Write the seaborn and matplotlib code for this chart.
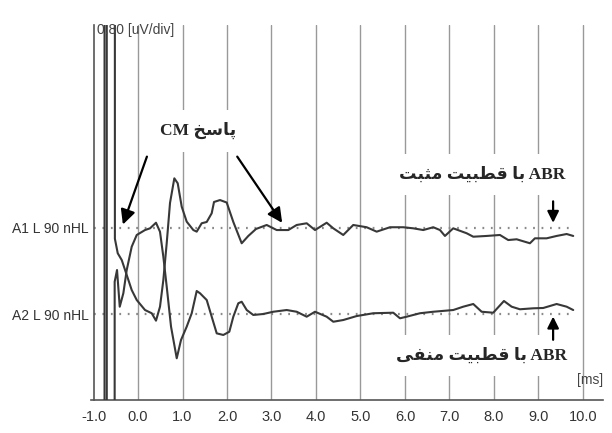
import matplotlib
matplotlib.use("Agg")
import numpy as np
import pandas as pd
import seaborn as sns
import matplotlib.pyplot as plt

# ---- data (ms, uV relative to each channel baseline) ----
# big +/-30 uV values are the stimulus artifact (off scale)
a1_ms = [-0.755, -0.75, -0.525, -0.52, -0.456, -0.366, -0.254, -0.142, -0.029, 0.157,
         0.308, 0.404, 0.494, 0.569, 0.645, 0.719, 0.816, 0.892, 0.982, 1.094,
         1.243, 1.319, 1.431, 1.544, 1.656, 1.708, 1.843, 1.993, 2.142, 2.330,
         2.479, 2.652, 2.892, 3.117, 3.378, 3.566, 3.791, 3.978, 4.240, 4.389,
         4.613, 4.838, 5.139, 5.364, 5.663, 5.962, 6.187, 6.411, 6.636, 6.787,
         6.899, 7.085, 7.387, 7.535, 7.836, 8.135, 8.321, 8.510, 8.809, 8.921,
         9.184, 9.409, 9.634, 9.782]
a1_uv = [-30, 30, 30, -0.10, -0.235, -0.298, -0.437, -0.577, -0.670, -0.763,
         -0.793, -0.862, -0.732, -0.484, -0.140, 0.233, 0.462, 0.416, 0.198, 0.059,
         -0.019, -0.034, 0.044, 0.056, 0.137, 0.242, 0.260, 0.237, 0.056, -0.142,
         -0.074, -0.009, 0.028, -0.019, -0.019, 0.028, 0.044, -0.019, 0.049, -0.003,
         -0.065, 0.028, 0.007, -0.034, 0.007, 0.007, -0.003, -0.019, 0.007, -0.019,
         -0.074, -0.003, -0.049, -0.081, -0.074, -0.065, -0.112, -0.105, -0.142, -0.096,
         -0.096, -0.074, -0.056, -0.074]

a2_ms = [-0.705, -0.70, -0.53, -0.525, -0.472, -0.411, -0.330, -0.254, -0.142, -0.029,
         0.157, 0.270, 0.404, 0.494, 0.569, 0.645, 0.742, 0.870, 0.966, 1.094,
         1.207, 1.319, 1.393, 1.544, 1.656, 1.769, 1.917, 2.052, 2.142, 2.254,
         2.330, 2.443, 2.591, 2.816, 3.040, 3.342, 3.566, 3.791, 3.978, 4.240,
         4.389, 4.613, 4.915, 5.288, 5.737, 5.888, 6.038, 6.337, 6.636, 7.085,
         7.310, 7.535, 7.724, 7.984, 8.225, 8.398, 8.584, 8.883, 9.108, 9.409,
         9.634, 9.782]
a2_uv = [30, -30, -30, 0.30, 0.409, 0.068, 0.193, 0.409, 0.626, 0.735,
         0.781, 0.797, 0.849, 0.765, 0.533, 0.254, -0.118, -0.412, -0.242, -0.118,
         0.007, 0.214, 0.193, 0.130, -0.025, -0.180, -0.195, -0.165, -0.025, 0.100,
         0.114, 0.037, -0.009, 0.000, 0.021, 0.037, 0.021, -0.025, 0.021, -0.025,
         -0.072, -0.056, -0.019, 0.007, 0.012, -0.040, -0.025, 0.007, 0.021, 0.037,
         0.068, 0.093, 0.021, 0.012, 0.121, 0.068, 0.044, 0.053, 0.056, 0.093,
         0.068, 0.037]

channels = ["A1", "A2"]
channel_labels = ["A1 L 90 nHL", "A2 L 90 nHL"]
channel_base = [2, 1]          # in divisions above the time axis
uv_per_div = 0.80
x_ticks = [-1.0, 0.0, 1.0, 2.0, 3.0, 4.0, 5.0, 6.0, 7.0, 8.0, 9.0, 10.0]

cm_text = "پاسخ CM"
abr_pos_text = "ABR با قطبیت مثبت"
abr_neg_text = "ABR با قطبیت منفی"

# ---- tiny Persian shaping (matplotlib has no bidi / joining) ----
FORMS = {  # isolated, final, initial, medial
    "ا": ("\uFE8D", "\uFE8E", None, None),
    "ب": ("\uFE8F", "\uFE90", "\uFE91", "\uFE92"),
    "پ": ("\uFB56", "\uFB57", "\uFB58", "\uFB59"),
    "ت": ("\uFE95", "\uFE96", "\uFE97", "\uFE98"),
    "ث": ("\uFE99", "\uFE9A", "\uFE9B", "\uFE9C"),
    "خ": ("\uFEA5", "\uFEA6", "\uFEA7", "\uFEA8"),
    "س": ("\uFEB1", "\uFEB2", "\uFEB3", "\uFEB4"),
    "ط": ("\uFEC1", "\uFEC2", "\uFEC3", "\uFEC4"),
    "ف": ("\uFED1", "\uFED2", "\uFED3", "\uFED4"),
    "ق": ("\uFED5", "\uFED6", "\uFED7", "\uFED8"),
    "م": ("\uFEE1", "\uFEE2", "\uFEE3", "\uFEE4"),
    "ن": ("\uFEE5", "\uFEE6", "\uFEE7", "\uFEE8"),
    "ی": ("\uFBFC", "\uFBFD", "\uFBFE", "\uFBFF"),
}


def shape_word(w):
    out = []
    for i, ch in enumerate(w):
        f = FORMS.get(ch)
        if f is None:
            out.append(ch)
            continue
        prev = w[i - 1] if i > 0 else None
        nxt = w[i + 1] if i + 1 < len(w) else None
        jp = prev in FORMS and FORMS[prev][2] is not None
        jn = nxt in FORMS and f[2] is not None
        if jp and jn:
            out.append(f[3])
        elif jp:
            out.append(f[1])
        elif jn:
            out.append(f[2])
        else:
            out.append(f[0])
    return "".join(reversed(out))


def rtl(text):
    words = text.split(" ")
    return " ".join(shape_word(w) if any(c in FORMS for c in w) else w
                    for w in reversed(words))


# ---- build frame ----
frames = []
for ch, base, ms, uv in zip(channels, channel_base, [a1_ms, a2_ms], [a1_uv, a2_uv]):
    d = pd.DataFrame({"ms": ms, "uV": uv})
    d["ch"] = ch
    d["y"] = base + d["uV"] / uv_per_div
    frames.append(d)
df = pd.concat(frames, ignore_index=True)

sns.set_style("white")
plt.rcParams["font.family"] = ["Liberation Sans", "DejaVu Sans"]

fig = plt.figure(figsize=(6.12, 4.33), dpi=100)
ax = fig.add_axes([0.1492, 0.0762, 0.836, 0.866])
ax.set_xlim(-1.05, 10.45)
ax.set_ylim(0, 4.36)

grid_col = "#999999"
for xv in x_ticks[1:]:
    ax.axvline(xv, color=grid_col, lw=1.0, zorder=1)

# dotted baselines
ax.hlines(channel_base, -1.0, 9.8, colors="#8a8a8a", lw=1.6,
          linestyles=(0, (0.8, 3.0)), zorder=1)

sns.lineplot(data=df, x="ms", y="y", units="ch", estimator=None, sort=False,
             color="#383838", lw=1.5, ax=ax, legend=False, zorder=3)

# axes styling
for s in ["top", "right"]:
    ax.spines[s].set_visible(False)
ax.spines["left"].set_position(("data", -1.0))
ax.spines["left"].set_color("#555555")
ax.spines["bottom"].set_color("#555555")
ax.spines["left"].set_linewidth(1.2)
ax.spines["bottom"].set_linewidth(1.2)

ax.set_xticks(x_ticks)
ax.set_xticklabels(["%.1f" % v for v in x_ticks])
ax.set_yticks([1, 2, 3, 4])
ax.set_yticklabels([channel_labels[1], channel_labels[0], "", ""])
ax.tick_params(axis="x", direction="inout", length=8, width=1.0, colors="#555555",
               labelcolor="#333333", labelsize=10.5, pad=3)
ax.tick_params(axis="y", direction="inout", length=7, width=1.0, colors="#555555",
               labelcolor="#333333", labelsize=10, pad=0)
ax.set_xlabel("")
ax.set_ylabel("")

ax.text(-0.93, 4.3, "%.2f [uV/div]" % uv_per_div, fontsize=10, color="#444444",
        ha="left", va="center", zorder=6)
ax.text(10.45, 0.23, "[ms]", fontsize=10, color="#444444", ha="right", va="center",
        zorder=6)

# annotations
font_ann = dict(family=["Liberation Serif", "DejaVu Sans"], weight="bold", size=12.5)
box = dict(boxstyle="square,pad=0.7", fc="white", ec="none")
ax.text(1.35, 3.13, rtl(cm_text), ha="center", va="center", bbox=box, zorder=4, **font_ann)
ax.text(7.73, 2.62, rtl(abr_pos_text), ha="center", va="center", bbox=box, zorder=4, **font_ann)
ax.text(7.73, 0.52, rtl(abr_neg_text), ha="center", va="center", bbox=box, zorder=4, **font_ann)

arr = dict(arrowstyle="-|>", color="black", lw=1.6, mutation_scale=22, shrinkA=0, shrinkB=0)
ax.annotate("", xy=(-0.34, 2.04), xytext=(0.20, 2.83), arrowprops=arr, zorder=5)
ax.annotate("", xy=(3.24, 2.06), xytext=(2.23, 2.83), arrowprops=arr, zorder=5)
arr2 = dict(arrowstyle="-|>", color="black", lw=1.6, mutation_scale=17, shrinkA=0, shrinkB=0)
ax.annotate("", xy=(9.33, 2.06), xytext=(9.33, 2.31), arrowprops=arr2, zorder=5)
ax.annotate("", xy=(9.33, 0.97), xytext=(9.33, 0.70), arrowprops=arr2, zorder=5)

fig.savefig("out.png", dpi=100, facecolor="white")
